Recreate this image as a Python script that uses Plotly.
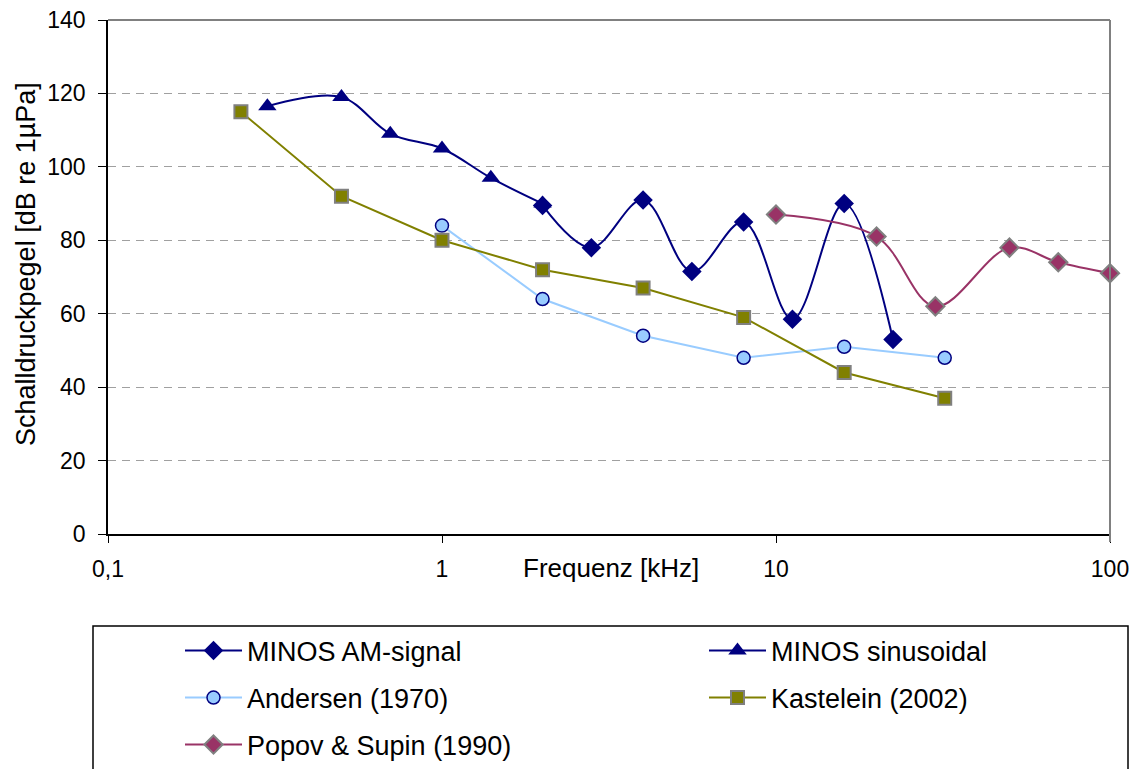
import plotly.graph_objects as go

# ---- data ----
am_freq = [2, 2.8, 4, 5.6, 8, 11.2, 16, 22.4]
am_level = [89.5, 78, 91, 71.5, 85, 58.5, 90, 53]

sin_freq = [0.3, 0.5, 0.7, 1, 1.4, 2]
sin_level = [116.5, 119, 109, 105, 97, 90]

andersen_freq = [1, 2, 4, 8, 16, 32]
andersen_level = [84, 64, 54, 48, 51, 48]

kastelein_freq = [0.25, 0.5, 1, 2, 4, 8, 16, 32]
kastelein_level = [115, 92, 80, 72, 67, 59, 44, 37]

popov_freq = [10, 20, 30, 50, 70, 100]
popov_level = [87, 81, 62, 78, 74, 71]

x_tickvals = [0.1, 1, 10, 100]
x_ticktext = ["0,1", "1", "10", "100"]
y_tickvals = [0, 20, 40, 60, 80, 100, 120, 140]

FONT = "Liberation Sans, Arial, sans-serif"

fig = go.Figure()

fig.add_trace(go.Scatter(
    x=am_freq, y=am_level, name="MINOS AM-signal", mode="lines+markers",
    line=dict(color="#000080", width=2, shape="spline", smoothing=1),
    marker=dict(symbol="diamond", size=15, color="#000080"),
    cliponaxis=False, legend="legend"))

fig.add_trace(go.Scatter(
    x=sin_freq, y=sin_level, name="MINOS sinusoidal", mode="lines+markers",
    line=dict(color="#000080", width=2, shape="spline", smoothing=1),
    marker=dict(symbol="triangle-up", size=16, color="#000080"),
    cliponaxis=False, legend="legend2"))

fig.add_trace(go.Scatter(
    x=andersen_freq, y=andersen_level, name="Andersen (1970)", mode="lines+markers",
    line=dict(color="#99CCFF", width=2),
    marker=dict(symbol="circle", size=13, color="#99CCFF",
                line=dict(color="#000080", width=1.5)),
    cliponaxis=False, legend="legend3"))

fig.add_trace(go.Scatter(
    x=kastelein_freq, y=kastelein_level, name="Kastelein (2002)", mode="lines+markers",
    line=dict(color="#808000", width=2),
    marker=dict(symbol="square", size=13, color="#808000",
                line=dict(color="#808080", width=2)),
    cliponaxis=False, legend="legend4"))

fig.add_trace(go.Scatter(
    x=popov_freq, y=popov_level, name="Popov & Supin (1990)", mode="lines+markers",
    line=dict(color="#993366", width=2, shape="spline", smoothing=1),
    marker=dict(symbol="diamond", size=14, color="#993366",
                line=dict(color="#808080", width=2)),
    cliponaxis=False, legend="legend5"))

# page offset (default body margin of the html page)
OFF = 8
W, H = 1139 - OFF, 769 - OFF
L, T = 108 - OFF, 20 - OFF
R = W - (1110 - OFF)
B = H - (534 - OFF)
pw, ph = W - L - R, H - T - B


def px_to_paper_x(px):
    return (px - OFF - L) / pw


def px_to_paper_y(py):
    return (H - B - (py - OFF)) / ph


legend_common = dict(
    orientation="v", bgcolor="rgba(0,0,0,0)", borderwidth=0,
    font=dict(family=FONT, size=27, color="#000000"),
    itemwidth=57,
    xanchor="left", yanchor="middle", itemclick=False,
    visible=True,
)
col1, col2 = px_to_paper_x(180), px_to_paper_x(704)
row1, row2, row3 = px_to_paper_y(651), px_to_paper_y(698), px_to_paper_y(745)

fig.update_layout(
    width=W, height=H,
    margin=dict(l=L, r=R, t=T, b=B, autoexpand=False),
    paper_bgcolor="white", plot_bgcolor="white",
    font=dict(family=FONT, color="#000000"),
    showlegend=True,
    legend=dict(legend_common, x=col1, y=row1),
    legend2=dict(legend_common, x=col2, y=row1),
    legend3=dict(legend_common, x=col1, y=row2),
    legend4=dict(legend_common, x=col2, y=row2),
    legend5=dict(legend_common, x=col1, y=row3),
    xaxis=dict(
        type="log", range=[-1, 2],
        tickvals=x_tickvals, ticktext=x_ticktext,
        tickfont=dict(family=FONT, size=23, color="#000000"),
        ticks="outside", ticklen=7, tickcolor="#000000", tickwidth=1,
        ticklabelstandoff=7, ticklabeloverflow="allow",
        showline=True, linecolor="#000000", linewidth=1.5,
        showgrid=False, zeroline=False,
    ),
    yaxis=dict(
        range=[0, 140], tickvals=y_tickvals,
        tickfont=dict(family=FONT, size=23, color="#000000"),
        ticks="outside", ticklen=8, tickcolor="#000000", tickwidth=1,
        ticklabelstandoff=8, ticklabeloverflow="allow",
        showline=True, linecolor="#000000", linewidth=1.5,
        showgrid=True, gridcolor="#A0A0A0", gridwidth=1, griddash="8px,6px",
        zeroline=False,
    ),
    annotations=[
        dict(text="Frequenz [kHz]", xref="paper", yref="paper",
             x=px_to_paper_x(611), y=px_to_paper_y(568),
             xanchor="center", yanchor="middle", showarrow=False,
             font=dict(family=FONT, size=26, color="#000000")),
        dict(text="Schalldruckpegel [dB re 1µPa]", xref="paper", yref="paper",
             x=px_to_paper_x(26), y=px_to_paper_y(264), textangle=-90,
             xanchor="center", yanchor="middle", showarrow=False,
             font=dict(family=FONT, size=27, color="#000000")),
    ],
    shapes=[
        # grey plot-area border (top and right)
        dict(type="line", xref="paper", yref="paper", x0=0, x1=1, y0=1, y1=1,
             line=dict(color="#808080", width=2), layer="above"),
        dict(type="line", xref="paper", yref="paper", x0=1, x1=1, y0=0, y1=1,
             line=dict(color="#808080", width=2), layer="above"),
        dict(type="line", xref="paper", yref="paper", x0=1, x1=1,
             y0=px_to_paper_y(534), y1=px_to_paper_y(542),
             line=dict(color="#808080", width=2), layer="above"),
        # legend frame
        dict(type="rect", xref="paper", yref="paper",
             x0=px_to_paper_x(93), x1=px_to_paper_x(1128),
             y0=px_to_paper_y(626), y1=px_to_paper_y(800),
             line=dict(color="#000000", width=1.5), fillcolor="rgba(0,0,0,0)"),
    ],
)

fig.write_html("out.html")
